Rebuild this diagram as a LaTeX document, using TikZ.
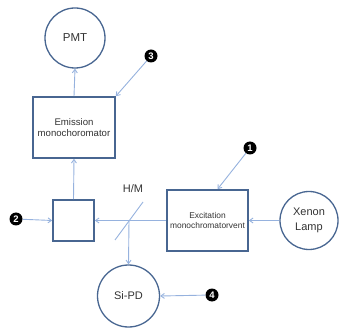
\documentclass[tikz,border=0pt]{standalone}
\usepackage{fontspec}
\setmainfont{Liberation Sans}
\usetikzlibrary{arrows.meta}
\definecolor{edge}{RGB}{72,102,145}
\definecolor{beam}{RGB}{150,178,222}
\tikzset{
  unit/.style={draw=edge, line width=1.6pt, fill=white, align=center, text=black!80, inner sep=1pt},
  boxunit/.style={unit, rectangle},
  roundunit/.style={unit, circle, line width=1.3pt},
  beamline/.style={draw=beam, line width=0.9pt, -{Straight Barb[length=3.5pt,width=5pt]}},
  badge/.style={circle, fill=black, text=white, inner sep=0pt, minimum size=13pt, font=\bfseries\fontsize{9.5}{9.5}\selectfont}
}
\begin{document}
\begin{tikzpicture}[x=1pt,y=-1pt]
\useasboundingbox (0,0) rectangle (340,331);

% optical components
\node[roundunit, minimum size=60pt, font=\fontsize{11.5}{13}\selectfont] (pmt) at (75,38) {PMT};
\node[boxunit, minimum width=82pt, minimum height=61pt, font=\fontsize{9.6}{10.5}\selectfont] (emis) at (74,127.5) {Emission\\monochoromator};
\node[boxunit, minimum size=41pt] (cell) at (73.5,220.5) {};
\node[boxunit, minimum width=81pt, minimum height=61pt, font=\fontsize{8.4}{9.5}\selectfont] (exc) at (207.5,220.5) {Excitation\\monochromatorvent};
\node[roundunit, minimum size=58pt, font=\fontsize{11}{15}\selectfont] (lamp) at (309,220.5) {Xenon\\Lamp};
\node[roundunit, minimum size=62pt, font=\fontsize{11}{13}\selectfont] (sipd) at (128.5,296) {Si-PD};

% half mirror
\coordinate (hm) at (129,220.5);
\coordinate (hmA) at (115,240);
\coordinate (hmB) at (143,202);
\node[font=\fontsize{11}{13}\selectfont, text=black!80] (hmlabel) at (133,189) {H/M};

% numbered markers
\node[badge] (b1) at (250,148) {1};
\node[badge] (b2) at (16,219) {2};
\node[badge] (b3) at (151,56) {3};
\node[badge] (b4) at (212,295) {4};

% light path
\draw[beamline] (lamp.west) -- (exc.east);
\draw[beamline] (exc.west) -- (cell.east);
\draw[draw=beam, line width=0.9pt] (hmA) -- (hmB);
\draw[beamline] (hm) -- (sipd.north);
\draw[beamline] (cell.north) -- (emis.south);
\draw[beamline] (emis.north) -- (pmt.south);

% marker pointers
\draw[beamline] (b1) -- ([xshift=10pt]exc.north);
\draw[beamline] (b2) -- (cell.west);
\draw[beamline] (b3) -- (emis.north east);
\draw[beamline] (b4) -- (sipd.east);
\end{tikzpicture}
\end{document}
